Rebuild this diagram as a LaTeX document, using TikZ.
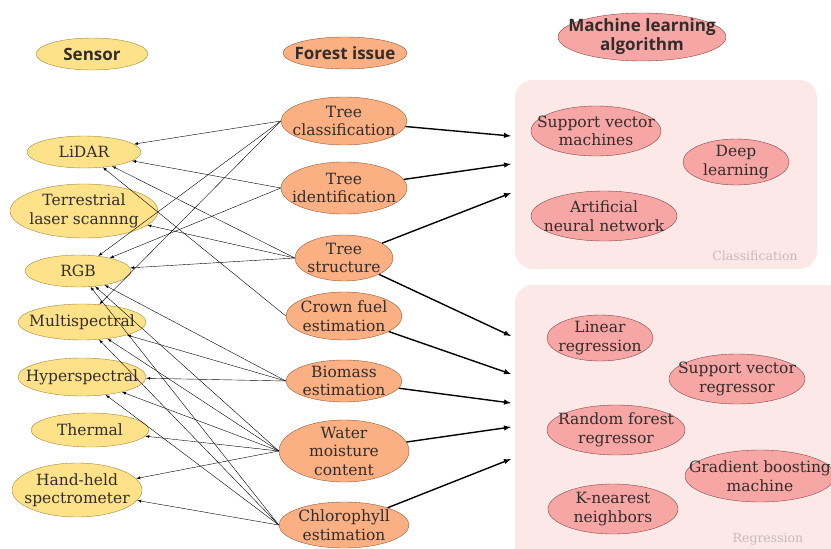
\documentclass[tikz,border=0pt]{standalone}
\usepackage{fontspec}
\usepackage{xcolor}
\usepackage{tikz}
\usetikzlibrary{shapes.geometric}
\setmainfont{DejaVu Serif}
\newfontfamily\bodyfont{DejaVu Serif}
\newfontfamily\headfont{Open Sans}
\definecolor{inkGray}{RGB}{50, 45, 42}
\definecolor{sensorFill}{RGB}{253, 226, 138}
\definecolor{sensorLine}{RGB}{165, 135, 60}
\definecolor{issueFill}{RGB}{250, 176, 130}
\definecolor{issueLine}{RGB}{150, 90, 55}
\definecolor{algoFill}{RGB}{247, 166, 166}
\definecolor{algoLine}{RGB}{135, 70, 70}
\definecolor{groupFill}{RGB}{253, 232, 232}
\definecolor{groupText}{RGB}{200, 186, 186}

\tikzset{
  blob/.style={ellipse, inner sep=-40pt, align=center, text=inkGray,
    font=\bodyfont\fontsize{15.5}{18.5}\selectfont},
  sensor/.style={blob, draw=sensorLine, fill=sensorFill},
  issue/.style={blob, draw=issueLine, fill=issueFill},
  algo/.style={blob, draw=algoLine, fill=algoFill},
  head/.style={font=\headfont\bfseries\fontsize{17}{19}\selectfont},
  group/.style={fill=groupFill, rounded corners=18pt},
  grouplabel/.style={text=groupText, font=\bodyfont\fontsize{12.5}{15}\selectfont},
  link/.style={-latex, thin},
  feed/.style={-latex, line width=1.4pt}
}

\begin{document}
\begin{tikzpicture}[x=1pt, y=-1pt]
\useasboundingbox (0,0) rectangle (831,549);

% Algorithm groups
\fill[group] (515,80) rectangle (817,269);
\fill[group] (515,285) rectangle (850,570);
\node[grouplabel] (clsname) at (755,256) {Classification};
\node[grouplabel] (regname) at (768,539) {Regression};

% Headers
\node[sensor, head, minimum width=112, minimum height=32] (hsensor) at (92,54) {Sensor};
\node[issue, head, minimum width=124, minimum height=32] (hissue) at (345,53) {Forest issue};
\node[algo, head, minimum width=168, minimum height=48] (halgo) at (642,37) {Machine learning\\algorithm};

% Sensors
\node[sensor, minimum width=114, minimum height=32] (lidar) at (84,152) {LiDAR};
\node[sensor, minimum width=148, minimum height=54] (tls) at (84,211) {Terrestrial\\laser scannng};
\node[sensor, minimum width=106, minimum height=32] (rgb) at (78,271) {RGB};
\node[sensor, minimum width=128, minimum height=36] (multi) at (82,322) {Multispectral};
\node[sensor, minimum width=128, minimum height=38] (hyper) at (82,377) {Hyperspectral};
\node[sensor, minimum width=118, minimum height=34] (thermal) at (90,430) {Thermal};
\node[sensor, minimum width=130, minimum height=54] (hand) at (77,490) {Hand-held\\spectrometer};

% Forest issues
\node[issue, minimum width=126, minimum height=48] (class) at (344,121) {Tree\\classification};
\node[issue, minimum width=126, minimum height=52] (ident) at (344,188) {Tree\\identification};
\node[issue, minimum width=98, minimum height=46] (struct) at (344,258) {Tree\\structure};
\node[issue, minimum width=116, minimum height=48] (crown) at (344,316) {Crown fuel\\estimation};
\node[issue, minimum width=116, minimum height=42] (biomass) at (344,381) {Biomass\\estimation};
\node[issue, minimum width=130, minimum height=62] (water) at (344,451) {Water\\moisture\\content};
\node[issue, minimum width=130, minimum height=46] (chloro) at (344,525) {Chlorophyll\\estimation};

% Classification algorithms
\node[algo, minimum width=130, minimum height=50] (svm) at (596,131) {Support vector\\machines};
\node[algo, minimum width=106, minimum height=46] (deep) at (736,162) {Deep\\learning};
\node[algo, minimum width=146, minimum height=50] (ann) at (604,216) {Artificial\\neural network};

% Regression algorithms
\node[algo, minimum width=106, minimum height=46] (linreg) at (600,338) {Linear\\regression};
\node[algo, minimum width=136, minimum height=50] (svr) at (737,379) {Support vector\\regressor};
\node[algo, minimum width=138, minimum height=50] (rfr) at (616,430) {Random forest\\regressor};
\node[algo, minimum width=150, minimum height=52] (gbm) at (760,476) {Gradient boosting\\machine};
\node[algo, minimum width=130, minimum height=50] (knn) at (613,509) {K-nearest\\neighbors};

% Sensors used per issue
\foreach \src/\dst in {class/lidar, class/rgb, class/multi, ident/lidar, ident/rgb,
    struct/lidar, struct/tls, struct/rgb, crown/lidar,
    biomass/rgb, biomass/multi, biomass/hyper,
    water/rgb, water/multi, water/hyper, water/thermal, water/hand,
    chloro/rgb, chloro/multi, chloro/hyper, chloro/hand}
  \draw[link] (\src.west) -- (\dst);

% Issues into algorithm groups
\foreach \y [count=\i] in {136, 164, 193}
  \coordinate (cin\i) at (511,\y);
\foreach \y [count=\i] in {336, 374, 403, 427, 459}
  \coordinate (rin\i) at (511,\y);
\foreach \src/\dst in {class/cin1, ident/cin2, struct/cin3, struct/rin1,
    crown/rin2, biomass/rin3, water/rin4, chloro/rin5}
  \draw[feed] (\src) -- (\dst);
\end{tikzpicture}
\end{document}
